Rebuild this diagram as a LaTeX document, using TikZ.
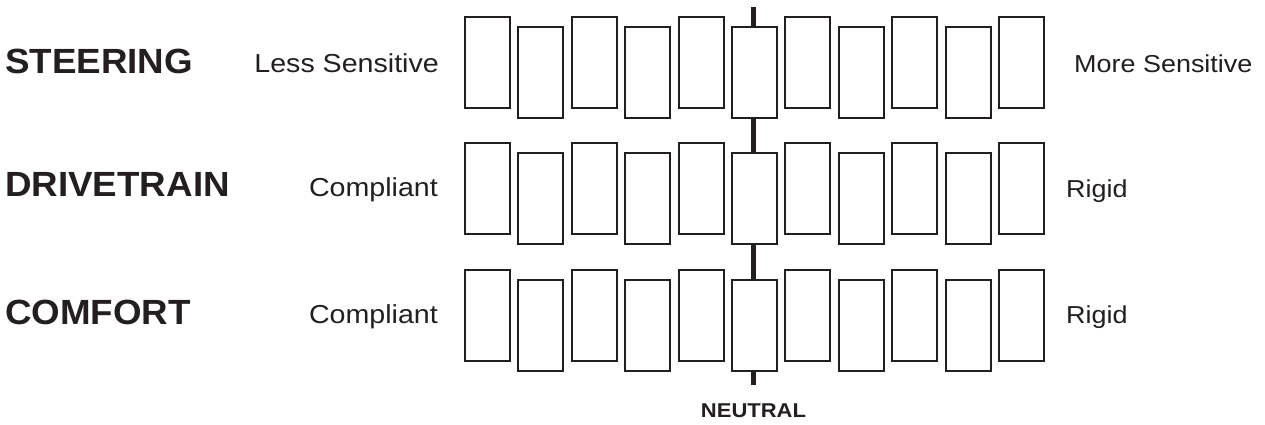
\documentclass[tikz,border=0pt]{standalone}
\usepackage{fontspec}
\setmainfont{Liberation Sans}
\newfontfamily\headfont[FakeStretch=1.05]{Liberation Sans}
\newfontfamily\labfont[FakeStretch=1.1]{Liberation Sans}
\definecolor{ink}{HTML}{231F20}
\begin{document}
\begin{tikzpicture}[x=1pt,y=-1pt,
  box/.style={draw=ink,fill=white,line width=2pt,minimum width=45pt,minimum height=91pt,inner sep=0pt,anchor=north west},
  head/.style={anchor=base west,inner sep=0pt,text=ink,font=\headfont\fontsize{35}{35}\selectfont\bfseries},
  lab/.style={anchor=base west,inner sep=0pt,text=ink,font=\labfont\fontsize{24.5}{24.5}\selectfont},
  llab/.style={anchor=base east,inner sep=0pt,text=ink,font=\labfont\fontsize{26}{26}\selectfont},
  neutral/.style={anchor=base,inner sep=0pt,text=ink,font=\labfont\fontsize{20}{20}\selectfont\bfseries},
  axis/.style={draw=ink,line width=5pt}]
\useasboundingbox (0,0) rectangle (1265,424);
\coordinate (ltop) at (753.5,7);
\coordinate (lbot) at (753.5,385);
\draw[axis] (ltop) -- (lbot);
\foreach \r/\t in {1/16,2/142,3/269}{
  \foreach \i in {0,...,10}{
    \pgfmathsetmacro{\xx}{464+53.4*\i}
    \pgfmathsetmacro{\yy}{\t+10*mod(\i,2)}
    \node[box] (b-\r-\i) at (\xx,\yy) {};
  }
}
\node[head] (h1) at (5,73) {STEERING};
\node[head] (h2) at (5,196) {DRIVETRAIN};
\node[head] (h3) at (5,324) {COMFORT};
\node[llab] (l1) at (439,72) {Less Sensitive};
\node[llab] (l2) at (438,196) {Compliant};
\node[llab] (l3) at (438,323) {Compliant};
\node[lab] (r1) at (1074,72) {More Sensitive};
\node[lab] (r2) at (1066,197) {Rigid};
\node[lab] (r3) at (1066,323) {Rigid};
\node[neutral] (n) at (753.5,417) {NEUTRAL};
\end{tikzpicture}
\end{document}
